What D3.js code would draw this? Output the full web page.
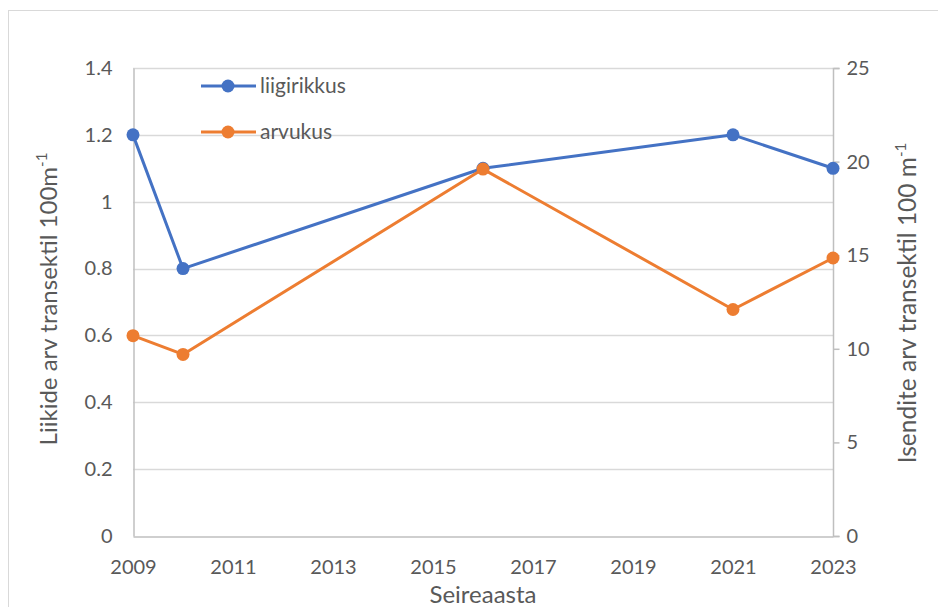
<!DOCTYPE html>
<html>
<head>
<meta charset="utf-8">
<script src="https://cdn.jsdelivr.net/npm/d3@7"></script>
<style>
  html, body { margin: 0; padding: 0; background: #fff; }
  svg text { font-family: Lato, "Open Sans", sans-serif; fill: #595959; }
</style>
</head>
<body>
<svg id="chart" width="938" height="607"></svg>
<script>
// Monitoring years and the two measured series
const years = [2009, 2010, 2016, 2021, 2023];
const liigirikkus = [1.2, 0.8, 1.1, 1.2, 1.1];          // left axis
const arvukus = [10.7, 9.7, 19.6, 12.1, 14.85];          // right axis
const xTicks = [2009, 2011, 2013, 2015, 2017, 2019, 2021, 2023];
const leftTicks = [0, 0.2, 0.4, 0.6, 0.8, 1, 1.2, 1.4];
const rightTicks = [0, 5, 10, 15, 20, 25];

const svg = d3.select("#chart");
const blue = "#4472C4", orange = "#ED7D31";

// outer chart frame
svg.append("rect").attr("x", 8.5).attr("y", 10.5).attr("width", 940).attr("height", 610)
  .attr("fill", "none").attr("stroke", "#d9d9d9").attr("stroke-width", 1);

const x = d3.scaleLinear().domain([2009, 2023]).range([133, 833]);
const yL = d3.scaleLinear().domain([0, 1.4]).range([536, 68]);
const yR = d3.scaleLinear().domain([0, 25]).range([536, 68]);

// horizontal gridlines
svg.append("g").selectAll("line").data(leftTicks.slice(1)).join("line")
  .attr("x1", 133).attr("x2", 833)
  .attr("y1", d => Math.round(yL(d)) + 0.5).attr("y2", d => Math.round(yL(d)) + 0.5)
  .attr("stroke", "#d9d9d9").attr("stroke-width", 1.3);

// left axis
const gL = svg.append("g").attr("transform", "translate(133.5,0)")
  .call(d3.axisLeft(yL).tickValues(leftTicks).tickSize(0).tickPadding(21).tickFormat(d => d3.format("")(d)));
gL.select(".domain").attr("stroke", "#bfbfbf").attr("stroke-width", 1.5);
gL.selectAll("text").style("font-size", "20px").attr("fill", "#595959");

// right axis
const gR = svg.append("g").attr("transform", "translate(833.5,0)")
  .call(d3.axisRight(yR).tickValues(rightTicks).tickSize(6).tickPadding(7));
gR.select(".domain").attr("stroke", "#bfbfbf").attr("stroke-width", 1.5).attr("d", "M6,68.5H0V536.5H6");
gR.selectAll(".tick line").attr("stroke", "#bfbfbf").attr("stroke-width", 1.5);
gR.selectAll("text").style("font-size", "20px").attr("fill", "#595959");

// bottom axis
const gB = svg.append("g").attr("transform", "translate(0,536.5)")
  .call(d3.axisBottom(x).tickValues(xTicks).tickSize(0).tickPadding(23).tickFormat(d3.format("d")));
gB.select(".domain").attr("stroke", "#bfbfbf").attr("stroke-width", 1.5);
gB.selectAll("text").style("font-size", "20px").attr("fill", "#595959");

// axis titles
svg.append("text").attr("x", 483).attr("y", 603).attr("text-anchor", "middle")
  .style("font-size", "24px").text("Seireaasta");

const tL = svg.append("text").attr("transform", "translate(57,299) rotate(-90)")
  .attr("text-anchor", "middle").style("font-size", "24px");
tL.append("tspan").text("Liikide arv transektil 100m");
tL.append("tspan").attr("dy", -10).style("font-size", "15px").text("-1");

const tR = svg.append("text").attr("transform", "translate(916,303) rotate(-90)")
  .attr("text-anchor", "middle").style("font-size", "24.5px");
tR.append("tspan").text("Isendite arv transektil 100 m");
tR.append("tspan").attr("dy", -10).style("font-size", "15px").text("-1");

// series lines and markers
const series = [
  { name: "liigirikkus", values: liigirikkus, y: yL, color: blue },
  { name: "arvukus", values: arvukus, y: yR, color: orange }
];
series.forEach(s => {
  const pts = years.map((yr, i) => [yr, s.values[i]]);
  svg.append("path").datum(pts)
    .attr("d", d3.line().x(d => x(d[0])).y(d => s.y(d[1])))
    .attr("fill", "none").attr("stroke", s.color).attr("stroke-width", 3).attr("stroke-linejoin", "round");
  svg.append("g").selectAll("circle").data(pts).join("circle")
    .attr("cx", d => x(d[0])).attr("cy", d => s.y(d[1])).attr("r", 6.5).attr("fill", s.color);
});

// legend
const legend = svg.append("g");
series.forEach((s, i) => {
  const ly = 86 + i * 46;
  legend.append("line").attr("x1", 201).attr("x2", 256).attr("y1", ly).attr("y2", ly)
    .attr("stroke", s.color).attr("stroke-width", 3);
  legend.append("circle").attr("cx", 228).attr("cy", ly).attr("r", 6.5).attr("fill", s.color);
  legend.append("text").attr("x", 260).attr("y", ly + 7).style("font-size", "21px").text(s.name);
});
</script>
</body>
</html>
